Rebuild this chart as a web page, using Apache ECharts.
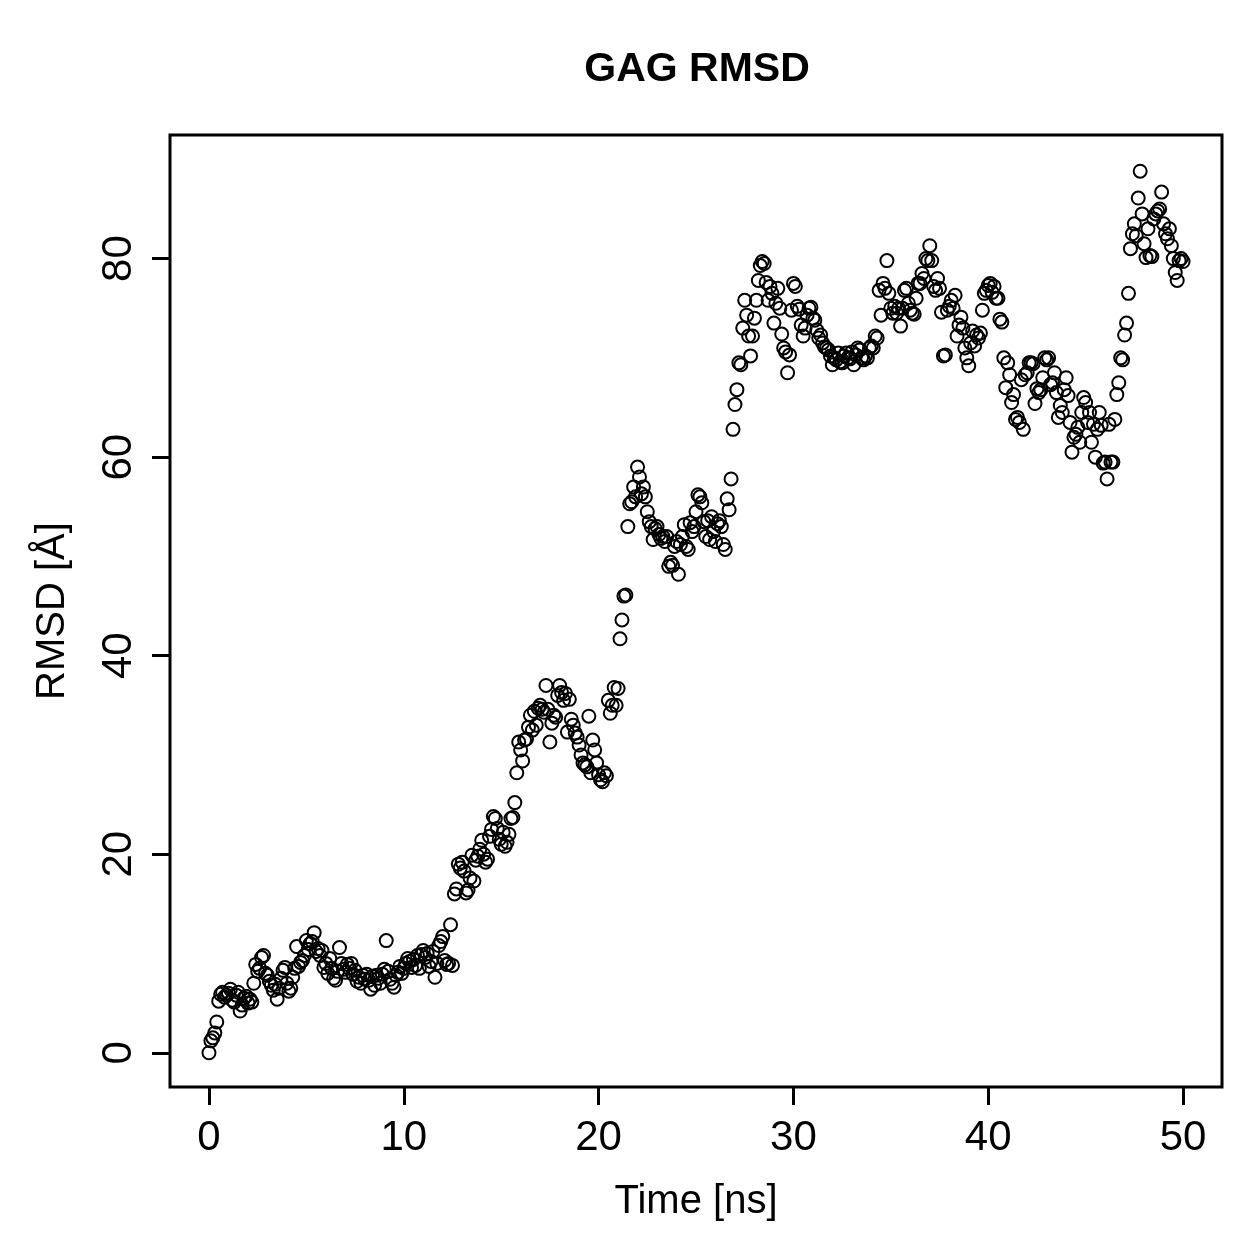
<!DOCTYPE html>
<html style="height:100%;width:100%;">

<head>
  <meta charset="utf-8">
  <title>GAG RMSD</title>
  <script src="https://cdn.jsdelivr.net/npm/echarts@6/dist/echarts.min.js"></script>
</head>

<body style="margin:0px;height:100%;width:100%;background:#fff;">
  <div id="main" style="width:100%;height:100%"></div>
  <script type="text/javascript" charset="utf-8">
    // RMSD samples, one every 0.1 ns (Å)
    var timeStep = 0.1;
    var rmsd0to10 = [
      0, 1.2, 1.5, 2.0, 3.1, 5.2, 5.9, 6.1, 5.6, 5.8,
      6.0, 6.4, 5.3, 5.1, 5.8, 6.1, 4.2, 4.8, 5.5, 5.7,
      5.0, 5.4, 5.1, 7.0, 8.9, 8.2, 8.5, 9.6, 9.8, 8.0,
      7.8, 7.2, 6.8, 6.3, 6.9, 5.4, 6.5, 7.5, 8.3, 8.6,
      7.0, 6.2, 6.5, 7.6, 8.5, 10.7, 8.7, 9.1, 9.3, 9.8,
      11.3, 10.4, 11.0, 11.2, 12.1, 10.2, 10.5, 9.8, 10.3, 8.6,
      9.0, 8.0, 9.5, 8.5, 7.5, 7.3, 8.2, 10.6, 9.0, 8.4,
      8.1, 8.9, 8.5, 9.0, 7.9, 8.3, 7.2, 7.6, 7.0, 7.8,
      7.4, 7.9, 7.3, 6.4, 7.7, 6.8, 7.8, 7.5, 7.0, 7.9,
      8.4, 11.3, 8.2, 7.4, 7.0, 6.6, 7.8, 8.1, 8.7, 8.0
    ];
    var rmsd10to20 = [
      8.5, 9.0, 9.5, 9.2, 8.6, 9.4, 8.8, 9.8, 8.5, 9.9,
      10.3, 9.6, 10.0, 8.7, 9.2, 10.2, 7.6, 9.0, 10.8, 11.2,
      11.7, 9.3, 8.9, 9.0, 12.9, 8.8, 16.0, 16.5, 19.0, 18.6,
      19.2, 18.3, 16.1, 16.4, 17.6, 19.9, 17.3, 19.4, 19.8, 20.5,
      21.4, 20.0, 19.2, 19.5, 21.8, 22.5, 23.8, 23.6, 22.6, 21.5,
      21.0, 22.2, 20.8, 21.2, 22.0, 23.6, 23.7, 25.2, 28.2, 31.3,
      30.5, 29.4, 31.5, 31.6, 32.8, 34.0, 32.5, 34.4, 33.0, 34.7,
      35.0, 34.6, 34.3, 37.0, 34.6, 31.3, 33.2, 34.0, 33.8, 36.0,
      37.0, 36.3, 35.5, 36.2, 32.3, 35.6, 33.6, 33.0, 32.2, 31.8,
      31.0, 30.0, 29.2, 29.0, 28.8, 33.9, 28.2, 31.5, 30.5, 29.2
    ];
    var rmsd20to30 = [
      28.0, 27.5, 27.3, 28.2, 27.9, 35.5, 34.2, 35.0, 36.8, 35.0,
      36.7, 41.7, 43.6, 46.0, 46.1, 53.0, 55.3, 55.5, 57.0, 56.0,
      59.0, 58.0, 56.3, 57.0, 56.0, 54.5, 53.5, 53.0, 51.7, 52.8,
      53.0, 52.2, 51.8, 52.0, 51.5, 52.0, 49.0, 49.4, 49.1, 51.0,
      51.5, 48.2, 51.2, 52.0, 53.2, 51.0, 50.7, 53.4, 52.5, 53.0,
      54.5, 56.2, 56.0, 55.4, 53.5, 52.0, 53.6, 51.7, 54.0, 52.5,
      51.5, 53.3, 53.6, 53.0, 51.2, 50.7, 55.8, 54.7, 57.8, 62.8,
      65.3, 66.8, 69.5, 69.3, 73.0, 75.8, 74.3, 72.2, 70.2, 72.2,
      74.0, 75.8, 77.8, 79.3, 79.7, 79.5, 77.6, 75.8, 77.2, 76.5,
      73.5, 75.5, 77.0, 75.0, 72.4, 71.0, 70.6, 68.5, 70.3, 74.8
    ];
    var rmsd30to40 = [
      77.5, 77.2, 75.2, 74.9, 73.3, 72.2, 73.0, 74.3, 75.0, 75.1,
      74.0, 73.8, 72.8, 72.0, 72.3, 71.5, 71.1, 71.0, 70.8, 70.2,
      69.3, 70.0, 69.8, 70.5, 69.6, 69.5, 70.2, 70.5, 70.0, 69.9,
      70.6, 69.3, 70.3, 71.0, 70.8, 70.0, 69.8, 70.2, 70.0, 71.0,
      71.2, 71.0, 72.2, 72.0, 76.8, 74.3, 77.5, 77.0, 79.8, 76.5,
      75.0, 74.5, 75.2, 74.5, 75.0, 73.2, 75.0, 76.8, 77.0, 75.5,
      74.8, 74.5, 74.4, 76.0, 77.5, 77.5, 78.5, 78.0, 80.0, 79.8,
      81.3, 79.8, 77.2, 76.8, 78.0, 77.0, 74.6, 70.2, 70.3, 74.8,
      75.2, 75.8, 75.0, 76.3, 72.2, 73.3, 74.1, 73.0, 71.0, 70.0,
      69.2, 71.5, 72.7, 71.2, 72.3, 72.0, 72.5, 74.8, 76.5, 76.8
    ];
    var rmsd40to50 = [
      77.3, 77.5, 76.6, 77.2, 76.0, 76.0, 73.9, 73.6, 70.0, 67.0,
      69.5, 68.3, 65.5, 66.3, 63.8, 64.0, 63.5, 67.8, 62.8, 68.3,
      68.5, 69.5, 69.5, 69.4, 65.4, 66.9, 66.5, 66.8, 68.0, 70.0,
      69.8, 70.0, 67.3, 67.5, 68.5, 66.5, 64.0, 65.2, 64.5, 66.8,
      68.0, 66.2, 63.5, 60.5, 62.0, 62.3, 63.0, 61.5, 64.5, 66.0,
      65.5, 63.5, 64.5, 61.5, 63.3, 60.0, 62.8, 64.5, 63.2, 59.4,
      59.5, 57.8, 63.3, 59.5, 59.5, 63.8, 66.3, 67.5, 70.0, 69.8,
      72.3, 73.5, 76.5, 81.0, 82.5, 83.5, 82.3, 86.1, 88.8, 84.5,
      81.5, 80.1, 83.0, 80.3, 80.2, 84.0, 84.5, 84.8, 85.0, 86.7,
      83.5, 82.5, 82.0, 83.0, 81.3, 80.0, 78.6, 77.8, 79.8, 80.0,
      79.7
    ];
    var xTicks = [0, 10, 20, 30, 40, 50];
    var yTicks = [0, 20, 40, 60, 80];

    var rmsd = rmsd0to10.concat(rmsd10to20, rmsd20to30, rmsd30to40, rmsd40to50);
    var points = [];
    for (var i = 0; i < rmsd.length; i++) {
      points.push([+(i * timeStep).toFixed(1), rmsd[i]]);
    }

    var font = 'Liberation Sans, Arial, Helvetica, sans-serif';
    var myChart = echarts.init(document.getElementById("main"));

    var option = {
      animation: false,
      backgroundColor: '#fff',
      title: {
        text: 'GAG RMSD',
        left: 692,
        top: 44,
        textAlign: 'center',
        textStyle: {
          fontFamily: font,
          fontSize: 41,
          fontWeight: 'bold',
          color: '#000'
        }
      },
      grid: {
        left: 170,
        top: 135,
        width: 1052,
        height: 952,
        show: true,
        borderColor: '#000',
        borderWidth: 3,
        backgroundColor: 'transparent'
      },
      xAxis: {
        type: 'value',
        min: -2,
        max: 52,
        name: 'Time [ns]',
        nameLocation: 'middle',
        nameGap: 95,
        nameTextStyle: { fontFamily: font, fontSize: 40, color: '#000' },
        splitLine: { show: false },
        axisLine: { show: false, onZero: false },
        axisTick: {
          show: true,
          length: 18,
          customValues: xTicks,
          lineStyle: { color: '#000', width: 3 }
        },
        axisLabel: {
          customValues: xTicks,
          margin: 30,
          fontFamily: font,
          fontSize: 42,
          color: '#000'
        }
      },
      yAxis: {
        type: 'value',
        min: -3.45,
        max: 92.45,
        name: 'RMSD [Å]',
        nameLocation: 'middle',
        nameGap: 97,
        nameRotate: 90,
        nameTextStyle: { fontFamily: font, fontSize: 40, color: '#000' },
        splitLine: { show: false },
        axisLine: { show: false, onZero: false },
        axisTick: {
          show: true,
          length: 18,
          customValues: yTicks,
          lineStyle: { color: '#000', width: 3 }
        },
        axisLabel: {
          customValues: yTicks,
          rotate: 90,
          align: 'center',
          verticalAlign: 'bottom',
          margin: 30,
          fontFamily: font,
          fontSize: 42,
          color: '#000'
        }
      },
      series: [{
        type: 'scatter',
        data: points,
        symbol: 'circle',
        symbolSize: 13,
        silent: true,
        itemStyle: {
          color: 'rgba(0,0,0,0)',
          borderColor: '#000',
          borderWidth: 2,
          opacity: 1
        }
      }]
    };

    myChart.setOption(option, true);
  </script>
</body>

</html>
